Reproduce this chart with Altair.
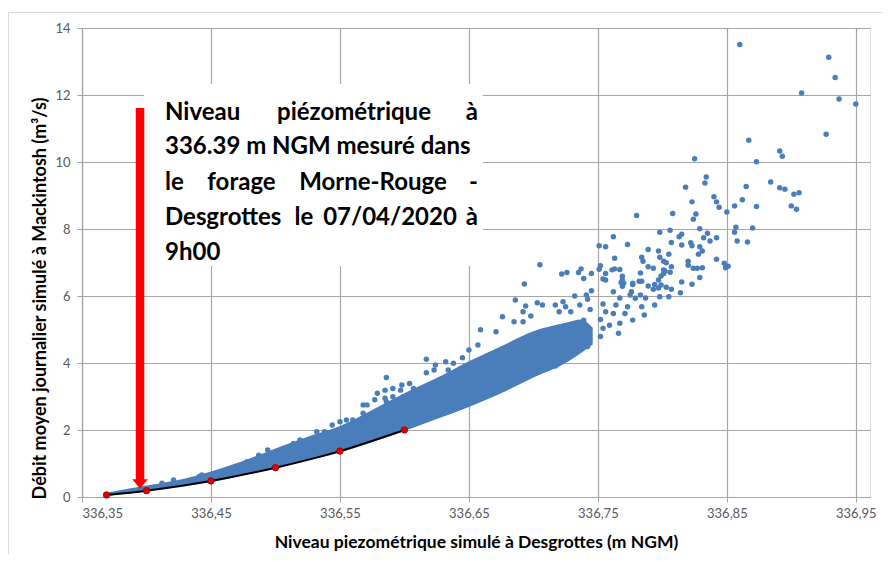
import altair as alt
import pandas as pd

# ---------------- data ----------------
# scattered simulated points (level at Desgrottes m NGM, daily discharge m3/s)
pts_x = [336.860, 336.929, 336.934, 336.908, 336.937, 336.950, 336.927, 336.867, 336.891, 336.893,
         336.825, 336.873, 336.834, 336.833, 336.818, 336.865, 336.884, 336.891, 336.895, 336.902,
         336.906, 336.840, 336.842, 336.823, 336.844, 336.862, 336.856, 336.850, 336.873, 336.900,
         336.904, 336.826, 336.808, 336.780, 336.824, 336.829, 336.835, 336.832, 336.837, 336.842,
         336.798, 336.806, 336.815, 336.813, 336.807, 336.822, 336.823, 336.815, 336.762, 336.751,
         336.756, 336.773, 336.789, 336.797, 336.805, 336.829, 336.831, 336.828, 336.842, 336.763,
         336.784, 336.785, 336.798, 336.801, 336.803, 336.820, 336.820, 336.824, 336.827, 336.831,
         336.789, 336.793, 336.807, 336.801, 336.752, 336.751, 336.761, 336.763, 336.767, 336.737,
         336.735, 336.726, 336.722, 336.745, 336.739, 336.756, 336.754, 336.756, 336.769, 336.769,
         336.770, 336.769, 336.783, 336.782, 336.784, 336.777, 336.789, 336.794, 336.797, 336.799,
         336.801, 336.802, 336.806, 336.799, 336.797, 336.793, 336.803, 336.807, 336.815, 336.823,
         336.829, 336.762, 336.745, 336.741, 336.732, 336.776, 336.775, 336.783, 336.798, 336.805,
         336.814, 336.767, 336.787, 336.857, 336.856, 336.870, 336.858, 336.866, 336.848, 336.851,
         336.849, 336.693, 336.686, 336.703, 336.707, 336.694, 336.692, 336.698, 336.676, 336.685,
         336.692, 336.717, 336.723, 336.725, 336.720, 336.729, 336.736, 336.742, 336.744, 336.739,
         336.754, 336.756, 336.752, 336.762, 336.764, 336.768, 336.777, 336.779, 336.794, 336.786,
         336.784, 336.773, 336.771, 336.777, 336.767, 336.766, 336.759, 336.754, 336.752, 336.743,
         336.742, 336.717, 336.722, 336.705, 336.659, 336.671, 336.650, 336.645, 336.657, 336.617,
         336.624, 336.632, 336.638, 336.617, 336.623, 336.586, 336.585, 336.591, 336.598, 336.604,
         336.607, 336.612, 336.591, 336.599, 336.634, 336.586, 336.579, 336.585, 336.568, 336.571,
         336.577, 336.568, 336.560, 336.550, 336.544, 336.538, 336.555, 336.519, 336.514, 336.506,
         336.494, 336.487, 336.478, 336.586, 336.575, 336.532, 336.597, 336.441, 336.421, 336.412,
         336.443, 336.461]
pts_y = [13.51, 13.13, 12.52, 12.06, 11.88, 11.73, 10.83, 10.65, 10.33, 10.17,
         10.10, 10.01, 9.55, 9.37, 9.25, 9.27, 9.40, 9.23, 9.19, 9.04,
         9.08, 8.96, 8.81, 8.81, 8.65, 8.87, 8.69, 8.51, 8.67, 8.69,
         8.59, 8.45, 8.46, 8.40, 8.29, 8.01, 7.87, 7.74, 7.64, 7.74,
         7.90, 7.96, 7.84, 7.77, 7.60, 7.59, 7.50, 7.52, 7.77, 7.50,
         7.47, 7.54, 7.39, 7.34, 7.25, 7.47, 7.34, 7.25, 7.10, 7.13,
         7.16, 7.04, 7.16, 7.04, 6.99, 7.04, 6.92, 6.83, 6.83, 6.84,
         6.87, 6.83, 6.87, 6.78, 6.90, 6.80, 6.78, 6.81, 6.79, 6.81,
         6.70, 6.70, 6.66, 6.67, 6.52, 6.67, 6.51, 6.48, 6.59, 6.48,
         6.38, 6.29, 6.69, 6.44, 6.44, 6.34, 6.30, 6.34, 6.48, 6.60,
         6.67, 6.75, 6.71, 6.33, 6.24, 6.20, 6.26, 6.20, 6.42, 6.35,
         6.55, 6.13, 6.16, 6.03, 6.00, 6.13, 6.03, 6.03, 5.98, 5.98,
         6.10, 5.94, 5.94, 8.05, 7.90, 8.03, 7.64, 7.61, 6.98, 6.89,
         6.84, 6.36, 5.88, 5.80, 5.73, 5.70, 5.53, 5.40, 5.38, 5.23,
         5.23, 5.73, 5.83, 5.68, 5.53, 5.53, 5.73, 5.90, 5.60, 5.28,
         5.76, 5.53, 5.30, 5.48, 5.73, 6.40, 6.38, 5.93, 5.73, 5.43,
         5.68, 5.68, 5.48, 5.28, 5.19, 4.89, 5.13, 5.04, 4.79, 4.79,
         4.49, 3.91, 4.44, 6.93, 4.99, 4.93, 4.39, 4.16, 4.54, 4.11,
         3.94, 4.04, 3.99, 3.71, 3.79, 3.57, 3.19, 3.24, 3.34, 3.39,
         3.24, 2.99, 2.99, 2.99, 3.79, 2.84, 3.10, 2.95, 2.75, 2.75,
         2.90, 2.50, 2.30, 2.25, 2.15, 1.95, 2.30, 1.70, 1.60, 1.45,
         1.40, 1.25, 1.05, 2.50, 2.50, 1.95, 3.19, 0.61, 0.51, 0.41,
         0.66, 0.76]

# envelope of the dense cloud of points (lower and upper edges)
band_x = [336.369, 336.400, 336.430, 336.450, 336.480, 336.500, 336.525, 336.550, 336.575,
          336.600, 336.625, 336.650, 336.675, 336.700, 336.725, 336.737, 336.746]
band_low = [0.03, 0.17, 0.33, 0.45, 0.69, 0.85, 1.09, 1.33, 1.64,
            1.97, 2.33, 2.69, 3.10, 3.57, 4.00, 4.30, 4.55]
band_high = [0.13, 0.34, 0.55, 0.76, 1.15, 1.45, 1.80, 2.12, 2.60,
             3.10, 3.55, 4.05, 4.50, 4.95, 5.20, 5.30, 5.05]

# measured calibration points joined by the black curve
fit_x = [336.369, 336.400, 336.450, 336.500, 336.550, 336.600]
fit_y = [0.06, 0.19, 0.48, 0.875, 1.37, 2.00]

# red arrow: measured level 336.39 m NGM
arrow_x = [336.395]
arrow_top = [11.61]
arrow_bottom = [0.50]
arrow_head = [0.39]

x_ticks = [336.35, 336.45, 336.55, 336.65, 336.75, 336.85, 336.95]
y_ticks = [0, 2, 4, 6, 8, 10, 12, 14]

x_title = "Niveau piezométrique simulé à Desgrottes (m NGM)"
y_title = "Débit moyen journalier simulé à Mackintosh (m³/s)"

# annotation words (justified text); positions are layout, in plot pixels
note_words = [
    ("Niveau", 83, 85, "left"), ("piézométrique", 272, 85, "center"), ("à", 396, 85, "right"),
    ("336.39 m NGM mesuré dans", 83, 119, "left"),
    ("le", 83, 155, "left"), ("forage", 159.5, 155, "center"), ("Morne-Rouge", 291, 155, "center"),
    ("-", 396, 155, "right"),
    ("Desgrottes", 83, 190, "left"), ("le", 222, 190, "center"), ("07/04/2020", 308, 190, "center"),
    ("à", 396, 190, "right"),
    ("9h00", 83, 225, "left"),
]

# ---------------- chart ----------------
FONT = "Lato"
BLUE = "#4a7ebb"
GRID = "#a6a6a6"

xscale = alt.Scale(domain=[336.35, 336.961], nice=False, zero=False)
yscale = alt.Scale(domain=[0, 14], nice=False)

X = alt.X("x:Q", scale=xscale, title=x_title,
          axis=alt.Axis(values=x_ticks,
                        labelExpr="replace(format(datum.value, '.2f'), '.', ',')",
                        grid=True, gridColor=GRID, gridWidth=1.2,
                        domainColor=GRID, domainWidth=1.2, tickColor=GRID, tickSize=5,
                        labelColor="#595959", labelFontSize=13, labelFont=FONT, labelPadding=5,
                        titleFont=FONT, titleFontSize=17.5, titleFontWeight="bold", titleColor="#000000",
                        titleBaseline="middle", titleY=45))
Y = alt.Y("y:Q", scale=yscale, title=y_title,
          axis=alt.Axis(values=y_ticks, format="d",
                        grid=True, gridColor=GRID, gridWidth=1.2,
                        domainColor=GRID, domainWidth=1.2, tickColor=GRID, tickSize=5,
                        labelColor="#595959", labelFontSize=13, labelFont=FONT, labelPadding=7,
                        titleFont=FONT, titleFontSize=18, titleFontWeight="bold", titleColor="#000000",
                        titleAngle=270, titleBaseline="middle", titleAlign="center",
                        titleX=-42, titleY=270))

one = alt.Data(values=[{"k": 0}])

border = alt.Chart(one).mark_rect(fillOpacity=0, stroke="#d9d9d9", strokeWidth=1).encode(
    x=alt.value(-73.5), x2=alt.value(900), y=alt.value(-15.5), y2=alt.value(700))

box = alt.Chart(one).mark_rect(fill="white").encode(
    x=alt.value(62), x2=alt.value(401), y=alt.value(56), y2=alt.value(238))

band_df = pd.DataFrame({"x": band_x, "y": band_high, "y_low": band_low})
band = alt.Chart(band_df).mark_area(color=BLUE, interpolate="monotone").encode(
    x=X, y=Y, y2="y_low:Q")

pts_df = pd.DataFrame({"x": pts_x, "y": pts_y})
scatter = alt.Chart(pts_df).mark_circle(color=BLUE, size=30, opacity=1).encode(x=X, y=Y)

fit_df = pd.DataFrame({"x": fit_x, "y": fit_y})
fit_line = alt.Chart(fit_df).mark_line(color="black", strokeWidth=2, interpolate="monotone").encode(x=X, y=Y)
fit_pts = alt.Chart(fit_df).mark_circle(color="#dd0000", size=42, opacity=1,
                                        stroke="#990000", strokeWidth=0.8).encode(x=X, y=Y)

arrow_df = pd.DataFrame({"x": arrow_x, "y": arrow_top, "y_low": arrow_bottom, "yh": arrow_head})
shaft = alt.Chart(arrow_df).mark_rule(color="#ff0000", strokeWidth=8.5, strokeCap="butt").encode(
    x=X, y=Y, y2="y_low:Q")
head = alt.Chart(arrow_df).mark_point(shape="M-1,-0.62L1,-0.62L0,0.62Z", size=240, filled=True,
                                      color="#ff0000", opacity=1).encode(
    x=X, y=alt.Y("yh:Q", scale=yscale))

words_df = pd.DataFrame(note_words, columns=["w", "px", "py", "al"])
text_layers = []
for _, r in words_df.iterrows():
    text_layers.append(
        alt.Chart(one).mark_text(text=r["w"], align=r["al"], baseline="middle", font=FONT,
                                 fontSize=24, fontWeight="bold", color="#000000").encode(
            x=alt.value(float(r["px"])), y=alt.value(float(r["py"]))))

chart = alt.layer(border, box, band, scatter, fit_line, fit_pts, shaft, head, *text_layers).properties(
    width=788, height=469,
    padding={"left": 74, "top": 20, "right": 12, "bottom": 57},
    autosize=alt.AutoSizeParams(type="none"),
).configure_view(strokeWidth=0).configure(background="white")

chart.save("out.html", embed_options={"renderer": "svg", "actions": False})
